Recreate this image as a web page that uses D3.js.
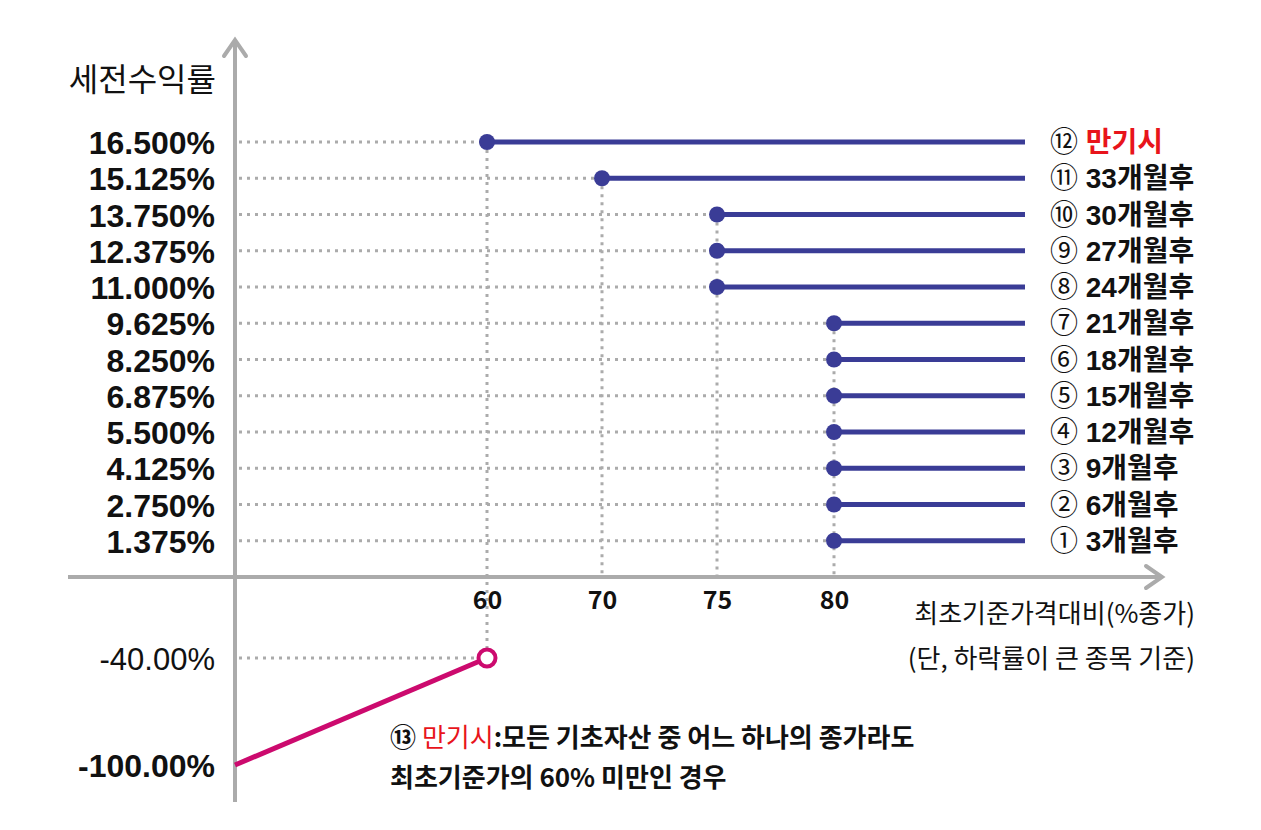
<!DOCTYPE html>
<html>
<head>
<meta charset="utf-8">
<script src="https://cdn.jsdelivr.net/npm/d3@7"></script>
<style>
  body { margin: 0; background: #fff; }
  svg text { font-family: "Noto Sans CJK KR", "Noto Sans", sans-serif; fill: #111; }
  svg text.tight { font-family: "Liberation Sans", "Noto Sans CJK KR", sans-serif; }
</style>
</head>
<body>
<svg id="chart" width="1261" height="830"></svg>
<script>
// payoff rows, from first redemption (3 months) to maturity
const marks = ["①", "②", "③", "④", "⑤", "⑥", "⑦", "⑧", "⑨", "⑩", "⑪", "⑫"]
const periods = ["3개월후", "6개월후", "9개월후", "12개월후", "15개월후", "18개월후", "21개월후", "24개월후", "27개월후", "30개월후", "33개월후", "만기시"]
const barriers = [80, 80, 80, 80, 80, 80, 80, 75, 75, 75, 70, 60]
const coupons = [1.375, 2.75, 4.125, 5.5, 6.875, 8.25, 9.625, 11, 12.375, 13.75, 15.125, 16.5]
const xTicks = [60, 70, 75, 80]
const lossPoints = [{x: 0, y: -100}, {x: 60, y: -40}]
const lossTicks = [-40, -100]

const svg = d3.select("#chart")
const blue = "#3a3c96", pink = "#cc0a6e", grey = "#ababab"

// axes are not to scale in the original, so use piecewise scales
const x = d3.scaleLinear().domain([0, 60, 70, 75, 80, 100]).range([235, 487, 602, 717, 834, 1025])
const y = d3.scaleLinear().domain([-100, -40, 0, 16.5]).range([765, 658, 577, 142])

// dotted guides
const guides = svg.append("g").attr("stroke", grey).attr("stroke-width", 3).attr("stroke-dasharray", "3,5")
coupons.forEach((c, i) => {
  guides.append("line").attr("x1", x(0) + 4).attr("x2", x(barriers[i])).attr("y1", y(c)).attr("y2", y(c))
})
xTicks.forEach(t => {
  const top = d3.max(coupons.filter((c, i) => barriers[i] == t))
  const bottom = t == 60 ? y(-40) : y(0)
  guides.append("line").attr("x1", x(t)).attr("x2", x(t)).attr("y1", y(top)).attr("y2", bottom)
})
guides.append("line").attr("x1", x(0) + 4).attr("x2", x(60)).attr("y1", y(-40)).attr("y2", y(-40))

// axis lines with arrow heads
const axes = svg.append("g").attr("stroke", grey).attr("stroke-width", 4).attr("fill", "none")
axes.append("line").attr("x1", 68).attr("x2", 1162).attr("y1", y(0)).attr("y2", y(0))
axes.append("line").attr("x1", x(0)).attr("x2", x(0)).attr("y1", 40).attr("y2", 802)
axes.append("path").attr("d", `M1146,${y(0) - 11}L1162,${y(0)}L1146,${y(0) + 11}`).attr("stroke-linecap", "round")
axes.append("path").attr("d", `M${x(0) - 11},56L${x(0)},40L${x(0) + 11},56`).attr("stroke-linecap", "round")

// y labels
const pct = (v, n) => (v < 0 ? "-" : "") + Math.abs(v).toFixed(n) + "%"
const yAxis = svg.append("g").attr("transform", "translate(218,0)")
  .call(d3.axisLeft(y).tickValues(coupons.concat(lossTicks)).tickSize(0)
    .tickFormat(v => v < 0 ? pct(v, 2) : pct(v, 3)))
yAxis.select(".domain").remove()
yAxis.selectAll("text").attr("class", "tight").attr("dy", "0.36em")
  .attr("font-size", d => d == -40 ? 31 : 32)
  .attr("font-weight", d => d == -40 ? 400 : 700).attr("fill", "#111")

svg.append("text").attr("x", 216).attr("y", 91).attr("text-anchor", "end")
  .attr("font-size", 32).text("세전수익률")

// x labels
const xAxis = svg.append("g").attr("transform", `translate(0,${y(0)})`)
  .call(d3.axisBottom(x).tickValues(xTicks).tickSize(0).tickPadding(14))
xAxis.select(".domain").remove()
xAxis.selectAll("text").attr("font-size", 25).attr("font-weight", 700).attr("fill", "#111")

svg.append("text").attr("x", 1195).attr("y", 623).attr("text-anchor", "end")
  .attr("font-size", 26).text("최초기준가격대비(%종가)")
svg.append("text").attr("x", 1195).attr("y", 668).attr("text-anchor", "end")
  .attr("font-size", 26).text("(단, 하락률이 큰 종목 기준)")

// coupon lines and dots
const rows = svg.append("g")
coupons.forEach((c, i) => {
  rows.append("line").attr("x1", x(barriers[i])).attr("x2", x(100)).attr("y1", y(c)).attr("y2", y(c))
    .attr("stroke", blue).attr("stroke-width", 5)
  rows.append("circle").attr("cx", x(barriers[i])).attr("cy", y(c)).attr("r", 8).attr("fill", blue)
  const t = rows.append("text").attr("class", "tight").attr("x", 1050).attr("y", y(c)).attr("dy", "0.36em")
    .attr("font-size", 28).attr("font-weight", 700)
  t.append("tspan").attr("font-weight", 400).text(marks[i] + " ")
  t.append("tspan").attr("fill", i == coupons.length - 1 ? "#e8141b" : "#111").text(periods[i])
})

// loss line at maturity
svg.append("path").datum(lossPoints)
  .attr("d", d3.line().x(d => x(d.x)).y(d => y(d.y)))
  .attr("stroke", pink).attr("stroke-width", 5).attr("fill", "none")
svg.append("circle").attr("cx", x(60)).attr("cy", y(-40)).attr("r", 8.5)
  .attr("fill", "#fff").attr("stroke", pink).attr("stroke-width", 4)

// note
const note = svg.append("text").attr("x", 390).attr("y", 747).attr("font-size", 26).attr("font-weight", 700)
note.append("tspan").text("⑬ ")
note.append("tspan").attr("fill", "#e8141b").attr("font-weight", 400).text("만기시")
note.append("tspan").text(":모든 기초자산 중 어느 하나의 종가라도")
svg.append("text").attr("x", 390).attr("y", 787).attr("font-size", 26).attr("font-weight", 700)
  .text("최초기준가의 60% 미만인 경우")
</script>
</body>
</html>
